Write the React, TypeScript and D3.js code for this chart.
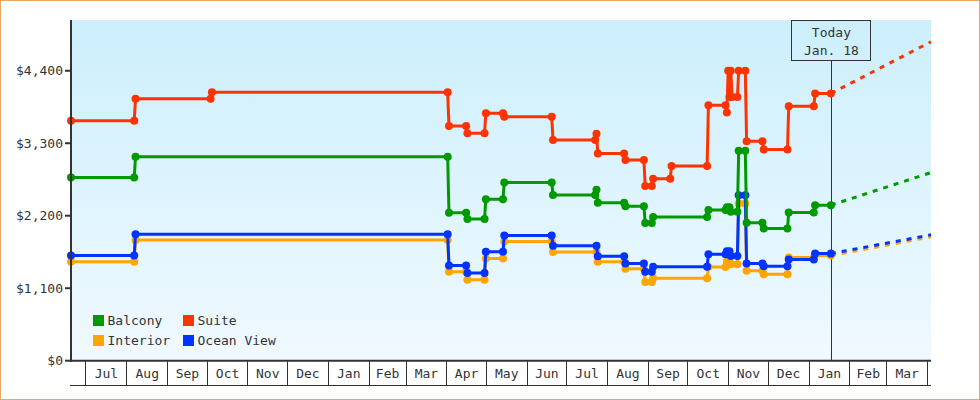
import React from "react";
import * as d3 from "d3";

// ---- data ----
const seriesNames = ["Interior", "Ocean View", "Balcony", "Suite"];
const seriesColors = ["#ffa500", "#0033ff", "#009900", "#ff3300"];

const suiteData: [string, number][] = [
  ["2017-06-20", 3640], ["2017-08-07", 3640], ["2017-08-08", 3975], ["2017-10-04", 3975],
  ["2017-10-05", 4075], ["2018-04-02", 4075], ["2018-04-03", 3560], ["2018-04-16", 3560],
  ["2018-04-17", 3450], ["2018-04-30", 3450], ["2018-05-01", 3755], ["2018-05-14", 3755],
  ["2018-05-15", 3700], ["2018-06-20", 3700], ["2018-06-21", 3350], ["2018-07-23", 3350],
  ["2018-07-24", 3445], ["2018-07-25", 3145], ["2018-08-14", 3145], ["2018-08-15", 3045],
  ["2018-08-29", 3045], ["2018-08-30", 2650], ["2018-09-04", 2650], ["2018-09-05", 2760],
  ["2018-09-18", 2760], ["2018-09-19", 2955], ["2018-10-16", 2955], ["2018-10-17", 3875],
  ["2018-10-30", 3875], ["2018-10-31", 3765], ["2018-11-01", 4400], ["2018-11-02", 4000],
  ["2018-11-03", 4400], ["2018-11-04", 4000], ["2018-11-08", 4000], ["2018-11-09", 4400],
  ["2018-11-14", 4400], ["2018-11-15", 3330],
  ["2018-11-27", 3330], ["2018-11-28", 3205], ["2018-12-16", 3205], ["2018-12-17", 3860],
  ["2019-01-05", 3860], ["2019-01-06", 4055], ["2019-01-18", 4055],
];

const balconyData: [string, number][] = [
  ["2017-06-20", 2780], ["2017-08-07", 2780], ["2017-08-08", 3095], ["2018-04-02", 3095],
  ["2018-04-03", 2245], ["2018-04-16", 2245], ["2018-04-17", 2150], ["2018-04-30", 2150],
  ["2018-05-01", 2450], ["2018-05-14", 2450], ["2018-05-15", 2705], ["2018-06-20", 2705],
  ["2018-06-21", 2515], ["2018-07-23", 2515], ["2018-07-24", 2595], ["2018-07-25", 2395],
  ["2018-08-14", 2395], ["2018-08-15", 2345], ["2018-08-29", 2345], ["2018-08-30", 2090],
  ["2018-09-04", 2090], ["2018-09-05", 2180], ["2018-10-16", 2180], ["2018-10-17", 2285],
  ["2018-10-30", 2285], ["2018-10-31", 2330], ["2018-11-02", 2330], ["2018-11-03", 2260],
  ["2018-11-08", 2260], ["2018-11-09", 3185], ["2018-11-14", 3185], ["2018-11-15", 2095],
  ["2018-11-27", 2095], ["2018-11-28", 2005], ["2018-12-16", 2005], ["2018-12-17", 2250],
  ["2019-01-05", 2250], ["2019-01-06", 2360], ["2019-01-18", 2360],
];

const oceanViewData: [string, number][] = [
  ["2017-06-20", 1595], ["2017-08-07", 1595], ["2017-08-08", 1920], ["2018-04-02", 1920],
  ["2018-04-03", 1445], ["2018-04-16", 1445], ["2018-04-17", 1330], ["2018-04-30", 1330],
  ["2018-05-01", 1655], ["2018-05-14", 1655], ["2018-05-15", 1900], ["2018-06-20", 1900],
  ["2018-06-21", 1745], ["2018-07-24", 1745], ["2018-07-25", 1585], ["2018-08-14", 1585],
  ["2018-08-15", 1475], ["2018-08-29", 1475], ["2018-08-30", 1350], ["2018-09-04", 1350],
  ["2018-09-05", 1425], ["2018-10-16", 1425], ["2018-10-17", 1615], ["2018-10-30", 1615],
  ["2018-10-31", 1660], ["2018-11-02", 1660], ["2018-11-03", 1590], ["2018-11-08", 1590],
  ["2018-11-09", 2510], ["2018-11-14", 2510], ["2018-11-15", 1475], ["2018-11-27", 1475],
  ["2018-11-28", 1435], ["2018-12-16", 1435], ["2018-12-17", 1535], ["2019-01-05", 1535],
  ["2019-01-06", 1625], ["2019-01-18", 1625],
];

const interiorData: [string, number][] = [
  ["2017-06-20", 1500], ["2017-08-07", 1500], ["2017-08-08", 1830], ["2018-04-02", 1830],
  ["2018-04-03", 1350], ["2018-04-16", 1350], ["2018-04-17", 1230], ["2018-04-30", 1230],
  ["2018-05-01", 1550], ["2018-05-14", 1550], ["2018-05-15", 1810], ["2018-06-20", 1810],
  ["2018-06-21", 1650], ["2018-07-24", 1650], ["2018-07-25", 1500], ["2018-08-14", 1500],
  ["2018-08-15", 1395], ["2018-08-29", 1395], ["2018-08-30", 1195], ["2018-09-04", 1195],
  ["2018-09-05", 1250], ["2018-10-16", 1250], ["2018-10-17", 1420], ["2018-10-30", 1420],
  ["2018-10-31", 1500], ["2018-11-02", 1500], ["2018-11-03", 1465], ["2018-11-08", 1465],
  ["2018-11-09", 2385], ["2018-11-14", 2385], ["2018-11-15", 1365], ["2018-11-27", 1365],
  ["2018-11-28", 1310], ["2018-12-16", 1310], ["2018-12-17", 1565], ["2019-01-05", 1565],
  ["2019-01-06", 1595], ["2019-01-18", 1595],
];

// projected value at the end of the time domain (dashed trend)
const projectionEnd = [1880, 1910, 2855, 4840];

const yTicks = [0, 1100, 2200, 3300, 4400];
const yMax = 5170;
const domainStart = "2017-06-20";
const domainEnd = "2019-04-04";
const todayDate = "2019-01-18";
const todayLabel = ["Today", "Jan. 18"];
const legendRows = [
  ["Balcony", "Suite"],
  ["Interior", "Ocean View"],
];

const allData = [interiorData, oceanViewData, balconyData, suiteData];

const parse = d3.timeParse("%Y-%m-%d");
const FONT = "'DejaVu Sans Mono', monospace";
const TEXT = "#333";

export default function App() {
  const W = 980, H = 400;
  const left = 71, right = 931, top = 20, bottom = 360.7;

  const x = d3.scaleTime().domain([parse(domainStart)!, parse(domainEnd)!]).range([left, right]);
  const y = d3.scaleLinear().domain([0, yMax]).range([bottom, top]);

  const line = d3.line<[Date, number]>().x((d) => x(d[0])).y((d) => y(d[1]));

  const series = allData.map((arr) => arr.map(([d, v]) => [parse(d)!, v] as [Date, number]));
  const months = d3.timeMonth.range(d3.timeMonth.ceil(x.domain()[0]), x.domain()[1]);
  const monthBands = months
    .map((m) => [m, d3.timeMonth.offset(m, 1)] as [Date, Date])
    .filter(([, e]) => e <= x.domain()[1]);
  const fmt = d3.timeFormat("%b");
  const tx = x(parse(todayDate)!);
  const endDate = x.domain()[1];

  const colorOf = (name: string) => seriesColors[seriesNames.indexOf(name)];
  const fmtY = (v: number) => "$" + d3.format(",")(v);

  return (
    <svg
      width={W}
      height={H}
      style={{ position: "absolute", left: 0, top: 0, display: "block" }}
      fontFamily={FONT}
    >
      <defs>
        <linearGradient id="bg" x1="0" y1="0" x2="0" y2="1">
          <stop offset="0" stopColor="#ccefFc" />
          <stop offset="1" stopColor="#f0f9ff" />
        </linearGradient>
      </defs>
      <rect x={0.5} y={0.5} width={W - 1} height={H - 1} fill="#fff" stroke="#e8a862" />
      <rect x={left} y={top} width={right - left} height={bottom - top} fill="url(#bg)" />

      {/* legend */}
      {legendRows.map((row, ri) =>
        row.map((name, ci) => (
          <g key={name} transform={`translate(${93 + ci * 90},${315 + ri * 20})`}>
            <rect width={11} height={11} fill={colorOf(name)} />
            <text x={14.5} y={10} fontSize={13} fill={TEXT}>
              {name}
            </text>
          </g>
        ))
      )}

      {/* today marker */}
      <line x1={Math.round(tx) + 0.5} x2={Math.round(tx) + 0.5} y1={60.5} y2={bottom} stroke={TEXT} strokeWidth={1} />
      <rect x={Math.round(tx) - 39.5} y={20.5} width={79} height={40} fill="none" stroke={TEXT} strokeWidth={1} />
      {todayLabel.map((t, i) => (
        <text key={t} x={tx + 0.5} y={37 + i * 18} textAnchor="middle" fontSize={13} fill={TEXT}>
          {t}
        </text>
      ))}

      {/* dashed projections */}
      {series.map((s, i) => {
        const last = s[s.length - 1];
        return (
          <path
            key={"p" + i}
            d={line([last, [endDate, projectionEnd[i]]]) || ""}
            fill="none"
            stroke={seriesColors[i]}
            strokeWidth={3}
            strokeDasharray="5 6"
          />
        );
      })}

      {/* series */}
      {series.map((s, i) => (
        <g key={"s" + i}>
          <path d={line(s) || ""} fill="none" stroke={seriesColors[i]} strokeWidth={3} strokeLinejoin="round" />
          {s.map((d, j) => (
            <circle key={j} cx={x(d[0])} cy={y(d[1])} r={4} fill={seriesColors[i]} />
          ))}
        </g>
      ))}

      {/* y axis */}
      <line x1={left} x2={left} y1={top} y2={bottom + 1} stroke={TEXT} strokeWidth={2} />
      {yTicks.map((t) => (
        <g key={t}>
          <line x1={65} x2={left} y1={y(t)} y2={y(t)} stroke={TEXT} strokeWidth={2} />
          <text x={63} y={y(t) + 4.5} textAnchor="end" fontSize={13} fill={TEXT}>
            {fmtY(t)}
          </text>
        </g>
      ))}

      {/* x axis */}
      <line x1={left - 1} x2={right} y1={bottom} y2={bottom} stroke={TEXT} strokeWidth={2} />
      <line x1={left - 1} x2={right} y1={385.5} y2={385.5} stroke={TEXT} strokeWidth={1} />
      {months.map((m) => (
        <line
          key={+m}
          x1={Math.round(x(m)) + 0.5}
          x2={Math.round(x(m)) + 0.5}
          y1={bottom}
          y2={385.5}
          stroke={TEXT}
          strokeWidth={1}
        />
      ))}
      {monthBands.map(([s, e]) => (
        <text key={+s} x={(x(s) + x(e)) / 2 + 0.5} y={377.5} textAnchor="middle" fontSize={13} fill={TEXT}>
          {fmt(s)}
        </text>
      ))}
    </svg>
  );
}
